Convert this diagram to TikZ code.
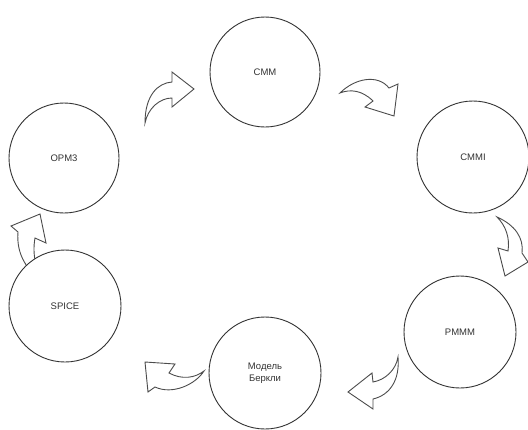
\documentclass[tikz,border=0pt]{standalone}
\usepackage{fontspec}
\setmainfont{Liberation Sans}
\begin{document}
\begin{tikzpicture}[x=1pt,y=-1pt,
  stage/.style={circle,draw=black!80,fill=white,line width=0.9pt,minimum size=110pt,inner sep=0pt,
    font=\fontsize{9.5}{12.5}\selectfont,text=black!80,align=center},
  curvarrow/.style={draw=black!70,line width=0.9pt,fill=white,line join=miter}]
\useasboundingbox (0,0) rectangle (528,429);
\fill[white] (0,0) rectangle (528,429);
% curved block arrows (drawn first, circles lie on top)
\draw[curvarrow] (145,123) .. controls (145,95) and (158,83) .. (172,82) -- (172,72) -- (194,89) -- (172,107) -- (172,98) .. controls (160,98) and (148,108) .. (145,123) -- cycle;
\draw[curvarrow] (340,93) .. controls (355,78) and (378,74) .. (389,88) -- (398,84) -- (394,116) -- (365,107) -- (373,101) .. controls (362,90) and (350,89) .. (340,93) -- cycle;
\draw[curvarrow] (497,217) .. controls (515,225) and (524,238) .. (522,253) -- (528,262) -- (505,276) -- (498,248) -- (508,251) .. controls (510,238) and (506,226) .. (497,217) -- cycle;
\draw[curvarrow] (398,357) .. controls (400,380) and (390,395) .. (373,399) -- (373,409) -- (348,392) -- (372,373) -- (373,382) .. controls (385,380) and (396,370) .. (398,357) -- cycle;
\draw[curvarrow] (145,362) -- (175,364) -- (169,373) .. controls (182,380) and (195,378) .. (204,371) .. controls (195,385) and (172,395) .. (155,387) -- (148,392) -- cycle;
\draw[curvarrow] (40,214) -- (46,243) -- (35,238) .. controls (32,255) and (36,270) .. (44,282) .. controls (28,272) and (16,255) .. (18,232) -- (11,226) -- cycle;
% stages
\node[stage] (cmm)   at (265,72)  {CMM};
\node[stage,minimum size=112pt] (cmmi)  at (473,157) {CMMI};
\node[stage,minimum size=112pt] (pmmm)  at (460,332) {PMMM};
\node[stage,minimum size=112pt] (berk)  at (265,373) {Модель\\Беркли};
\node[stage,minimum size=112pt] (spice) at (65,306)  {SPICE};
\node[stage] (opm3)  at (64,158)  {OPM3};
\end{tikzpicture}
\end{document}
